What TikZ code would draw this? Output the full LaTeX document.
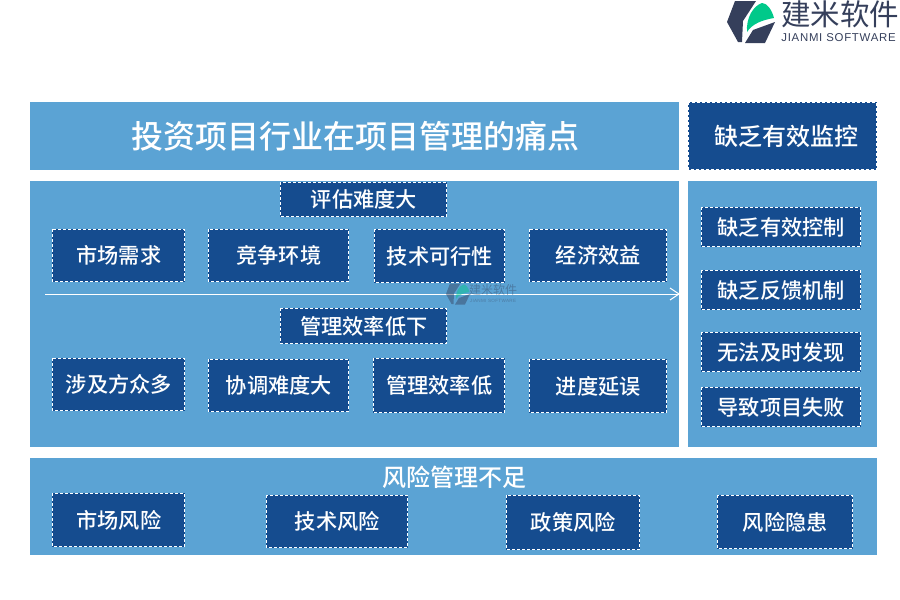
\documentclass[tikz,border=0pt]{standalone}
\usepackage{fontspec}
\setmainfont{Noto Sans CJK SC}
\newfontfamily\cjkb{Noto Sans CJK SC Medium}
\newfontfamily\latn[LetterSpace=6.5]{Liberation Sans}
\definecolor{panel}{HTML}{5BA3D4}
\definecolor{navy}{HTML}{154C8F}
\definecolor{logodark}{HTML}{353F5B}
\definecolor{logogreen}{HTML}{00C98A}
\tikzset{
  x=1pt,y=-1pt,
  panelbox/.style={fill=panel,draw=none},
  navybox/.style={fill=navy,draw=white,line width=0.9pt,dash pattern=on 3pt off 2pt},
  boxlabel/.style={text=white,font=\cjkb\fontsize{21.2}{21.2}\selectfont,inner sep=0pt},
  headlabel/.style={text=white,font=\cjkb\fontsize{24}{24}\selectfont,inner sep=0pt},
  titlelabel/.style={text=white,font=\cjkb\fontsize{32}{32}\selectfont,inner sep=0pt},
}
\newcommand{\navyitem}[6]{% name, x1,y1,x2,y2,text
  \draw[navybox] (#2+0.4,#3+0.4) rectangle (#4-0.5,#5-0.5);
  \node[boxlabel] (#1) at ({(#2+#4)/2+0.3},{(#3+#5)/2+0.2}) {#6};
}
\newcommand{\logomark}{%
  \fill[logodark] (35,1) -- (56,1) -- (43,21) -- (42,42) -- (38,42) -- (27,22) -- cycle;
  \fill[logodark] (45,43) -- (53,30) -- (75,22) -- (65,43) -- cycle;
  \fill[logogreen] (47,32) .. controls (46,18) and (53,6) .. (62,3) .. controls (67,3) and (72,10) .. (74,18) .. controls (62,20) and (52,24) .. (47,32) -- cycle;
}
\begin{document}
\begin{tikzpicture}
\useasboundingbox (0,0) rectangle (900,600);
% panels
\fill[panelbox] (30,102) rectangle (679,170);
\fill[panelbox] (30,181) rectangle (679,447);
\fill[panelbox] (688,181) rectangle (877,447);
\fill[panelbox] (30,458) rectangle (877,555);
% logo
\begin{scope}[shift={(700,0)}]
  \logomark
\end{scope}
\node[inner sep=0pt,text=logodark,font=\fontsize{29.5}{29.5}\selectfont] (brand) at (840,14) {建米软件};
\node[inner sep=0pt,text=logodark,font=\latn\fontsize{11.4}{11.4}\selectfont] (brandsub) at (838.5,38) {JIANMI SOFTWARE};
% title
\node[titlelabel] (title) at (355.5,136) {投资项目行业在项目管理的痛点};
\draw[navybox] (688,102) rectangle (876.5,169.5);
\node[headlabel] (monitor) at (786,136) {缺乏有效监控};
% row 1
\navyitem{assess}{280}{182}{447}{217}{评估难度大}
\navyitem{a1}{52}{229}{185}{282}{市场需求}
\navyitem{a2}{208}{229}{349}{282}{竞争环境}
\navyitem{a3}{374}{229}{505}{283}{技术可行性}
\navyitem{a4}{529}{229}{667}{282}{经济效益}
% arrow
\coordinate (arrowstart) at (45,294);
\coordinate (arrowend) at (679,294);
\draw[white,line width=1pt] (arrowstart) -- (arrowend);
\draw[white,line width=1pt] (670,288) -- (arrowend) -- (670,300);
% watermark
\begin{scope}[shift={(446,283)},scale=0.5,opacity=0.45]
  \begin{scope}[shift={(-27,0)}]\logomark\end{scope}
\end{scope}
\node[inner sep=0pt,text=logodark,opacity=0.4,font=\fontsize{12}{12}\selectfont] (wm) at (493,289.5) {建米软件};
\node[inner sep=0pt,text=logodark,opacity=0.4,font=\latn\fontsize{4.6}{4.6}\selectfont] (wmsub) at (493,301) {JIANMI SOFTWARE};
% row 2
\navyitem{eff}{280}{308}{447}{344}{管理效率低下}
\navyitem{b1}{52}{358}{185}{411}{涉及方众多}
\navyitem{b2}{208}{359}{349}{412}{协调难度大}
\navyitem{b3}{373}{358}{505}{413}{管理效率低}
\navyitem{b4}{529}{359}{667}{413}{进度延误}
% right column
\navyitem{c1}{701}{207}{861}{247}{缺乏有效控制}
\navyitem{c2}{701}{270}{861}{310}{缺乏反馈机制}
\navyitem{c3}{701}{332}{861}{372}{无法及时发现}
\navyitem{c4}{701}{387}{861}{427}{导致项目失败}
% bottom
\node[headlabel] (risk) at (454,477) {风险管理不足};
\navyitem{d1}{52}{493}{185}{547}{市场风险}
\navyitem{d2}{266}{495}{408}{548}{技术风险}
\navyitem{d3}{506}{495}{640}{550}{政策风险}
\navyitem{d4}{717}{495}{853}{549}{风险隐患}
\end{tikzpicture}
\end{document}
